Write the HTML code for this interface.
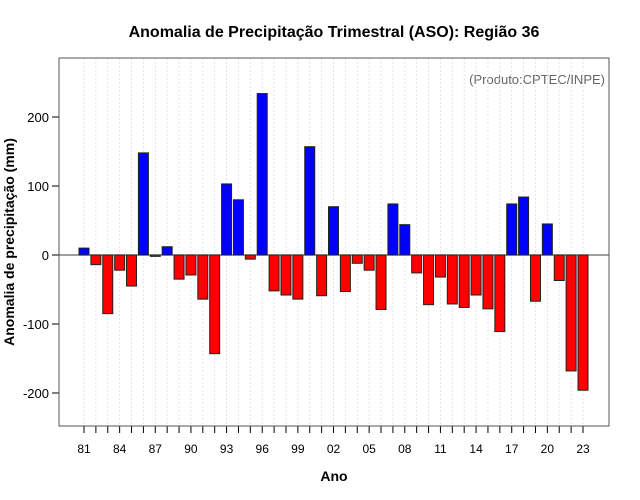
<!DOCTYPE html>
<html><head><meta charset="utf-8"><style>
body{margin:0;background:#fff}
svg{display:block;font-family:"Liberation Sans",Arial,sans-serif}
</style></head><body>
<svg id="chart" width="640" height="500">
<text x="334" y="37" text-anchor="middle" font-size="16" font-weight="bold">Anomalia de Precipitação Trimestral (ASO): Região 36</text>
<text x="605" y="84" text-anchor="end" font-size="13" fill="#666">(Produto:CPTEC/INPE)</text>
<text x="334" y="481" text-anchor="middle" font-size="14" font-weight="bold">Ano</text>
<text transform="translate(14,242) rotate(-90)" text-anchor="middle" font-size="14" font-weight="bold">Anomalia de precipitação (mm)</text>
<g id="grid"></g><g id="bars"></g><g id="axes"></g>
<rect x="59" y="58" width="550" height="368" fill="none" stroke="#555"/>
</svg>
<script>
const years=[81,82,83,84,85,86,87,88,89,90,91,92,93,94,95,96,97,98,99,0,1,2,3,4,5,6,7,8,9,10,11,12,13,14,15,16,17,18,19,20,21,22,23];
const values=[10,-14,-85,-22,-45,148,-2,12,-35,-29,-64,-143,103,80,-6,234,-52,-58,-64,157,-59,70,-53,-12,-22,-79,74,44,-26,-72,-32,-71,-76,-58,-78,-111,74,84,-67,45,-37,-168,-196];
const yTicks=[-200,-100,0,100,200];
const NS='http://www.w3.org/2000/svg';
const xs=i=>84+i*(583-84)/42;
const ys=v=>255-v*0.69;
function mk(t,a,p){const e=document.createElementNS(NS,t);for(const k in a)e.setAttribute(k,a[k]);p.appendChild(e);return e;}
const grid=document.getElementById('grid'),bars=document.getElementById('bars'),axes=document.getElementById('axes');
years.forEach((y,i)=>{
 const g=mk('line',{x1:xs(i),x2:xs(i),y1:58,y2:426,stroke:'#ddd','stroke-dasharray':'2,2','stroke-width':0.8},grid);
 
 
 const t=mk('line',{x1:xs(i),x2:xs(i),y1:426,y2:433,stroke:'#000'},axes);
 
 
 if(i%3===0){
  const l=mk('text',{x:xs(i),y:453,'text-anchor':'middle','font-size':12},axes);
  l.textContent=String(y).padStart(2,'0');
  
  
 }
});
mk('line',{x1:59,x2:609,y1:ys(0),y2:ys(0),stroke:'#666','stroke-width':1.3},grid);
values.forEach((v,i)=>{
 const y0=ys(Math.max(v,0)),y1=ys(Math.min(v,0));
 const r=mk('rect',{x:xs(i)-5,y:y0,width:10,height:Math.max(y1-y0,1),fill:v>=0?'#0000ff':'#ff0000',stroke:'#222','stroke-width':1},bars);
 
 
});
yTicks.forEach(v=>{
 const t=mk('line',{x1:52,x2:59,y1:ys(v),y2:ys(v),stroke:'#000'},axes);
 
 
 const l=mk('text',{x:49,y:ys(v)+5,'text-anchor':'end','font-size':13},axes);
 l.textContent=v;
 
 
});
</script>
</body></html>
